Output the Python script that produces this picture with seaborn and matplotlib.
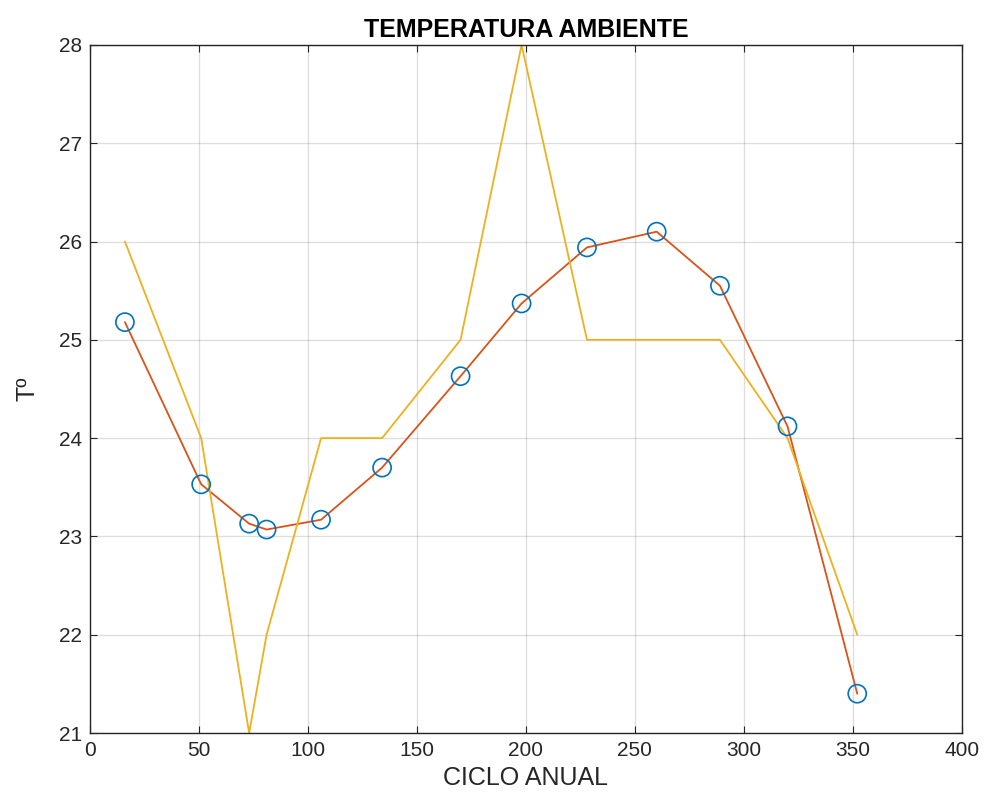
import pandas as pd
import matplotlib.pyplot as plt
import seaborn as sns

# Data
dias = [16, 51, 73, 81, 106, 134, 170, 198, 228, 260, 289, 320, 352]
temp_ajuste = [25.18, 23.53, 23.13, 23.07, 23.17, 23.70, 24.63, 25.37, 25.94, 26.10, 25.55, 24.12, 21.40]
temp_medida = [26, 24, 21, 22, 24, 24, 25, 28, 25, 25, 25, 24, 22]

df = pd.DataFrame({"dia": dias, "ajuste": temp_ajuste, "medida": temp_medida})

sns.set_style("whitegrid")
plt.rcParams['font.family'] = ['Liberation Sans', 'DejaVu Sans']

fig = plt.figure(figsize=(9.84, 8.02), dpi=100)
ax = fig.add_axes([0.0915, 0.086, 0.886, 0.858])

sns.scatterplot(data=df, x="dia", y="ajuste", ax=ax, marker="o", s=170,
                facecolor="none", edgecolor="#0072BD", linewidth=1.2, zorder=3)
sns.lineplot(data=df, x="dia", y="ajuste", ax=ax, color="#D95319", linewidth=1.3,
             sort=False, zorder=2)
sns.lineplot(data=df, x="dia", y="medida", ax=ax, color="#EDB120", linewidth=1.3,
             sort=False, zorder=2)

ax.set_xlim(0, 400)
ax.set_ylim(21, 28)
ax.set_xticks(range(0, 401, 50))
ax.set_yticks(range(21, 29))
ax.grid(True, color="#262626", alpha=0.15, linewidth=1)
for s in ax.spines.values():
    s.set_color("#262626")
    s.set_linewidth(1)
ax.tick_params(direction="in", length=5, color="#262626", labelcolor="#262626",
               labelsize=15, top=True, right=True, bottom=True, left=True, pad=6)
ax.set_xlabel("CICLO ANUAL", fontsize=18, color="#262626", labelpad=4)
ax.set_ylabel("Tº", fontsize=18, color="#262626", labelpad=14)
ax.set_title("TEMPERATURA AMBIENTE", fontsize=18, fontweight="semibold", color="black", pad=6)

plt.savefig("out.png", dpi=100)
plt.close()
